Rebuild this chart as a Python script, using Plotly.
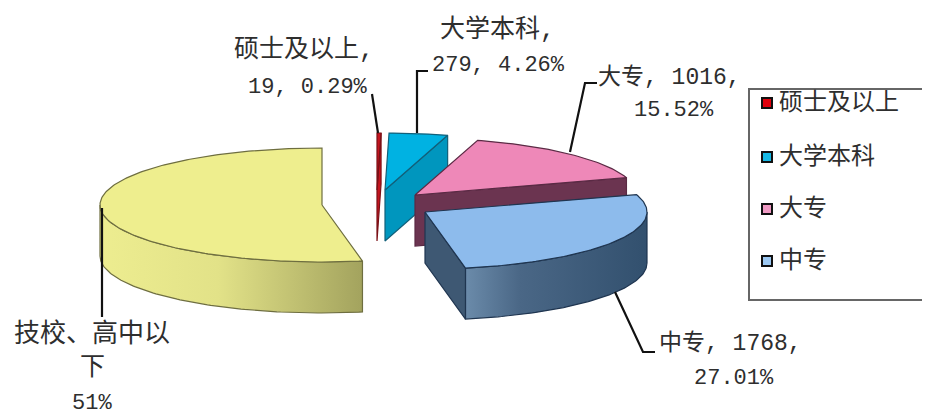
import numpy as np
import plotly.graph_objects as go

categories = ["硕士及以上", "大学本科", "大专", "中专", "技校、高中以下"]
counts = [19, 279, 1016, 1768, 3464]
label_lines = [["硕士及以上,", "19, 0.29%"], ["大学本科,", "279, 4.26%"], ["大专, 1016,", "15.52%"],
               ["中专, 1768,", "27.01%"], ["技校、高中以", "下", "51%"]]

top_colors = ["#C4141E", "#00B2E2", "#EE88B8", "#8DBBEC", "#EEEE8E"]
cut_colors = ["#C4141E", "#0096BE", "#6B3450", "#3E5873", None]
wall_scales = [None, None, None,
               [[0, "#6B8BAA"], [0.3, "#4A6786"], [1, "#32506E"]],
               [[0, "#EDED90"], [0.45, "#E2E288"], [1, "#A3A35E"]]]
edge_colors = ["#7A1016", "#12607A", "#5A2A44", "#1F3550", "#6E6E40"]
swatch_colors = ["#E0000C", "#16B8E4", "#F09AC4", "#9CC8F2"]
apex_x = [377, 385, 415, 425, 322]
apex_y = [190, 190, 195, 212, 205]
RX, RY, DEPTH = 222, 57, 51

FONT = "Liberation Mono, Noto Sans CJK SC"
TEXT = "#2E2E2E"
total = sum(counts)
edges = np.cumsum([0] + counts) / total * 2 * np.pi


def rim(cx, cy, a, b, dz=0):
    t = np.linspace(a, b, max(int(abs(b - a) * 60), 2))
    return cx + RX * np.sin(t), cy - RY * np.cos(t) + dz


fig = go.Figure()


def poly(x, y, fill, line, gradient=None):
    tr = dict(x=list(x), y=list(y), mode="lines", fill="toself", hoverinfo="skip",
              line=dict(color=line, width=1.2), showlegend=False)
    if gradient:
        tr["fillgradient"] = dict(type="horizontal", colorscale=gradient)
    else:
        tr["fillcolor"] = fill
    fig.add_trace(go.Scatter(**tr))


# back to front: the largest slice, then clockwise from the top
for i in [4, 0, 1, 2, 3]:
    a, b = edges[i], edges[i + 1]
    cx, cy = apex_x[i], apex_y[i]
    # outer wall: only the part of the rim that faces the viewer
    lo, hi = max(a, np.pi / 2), min(b, 3 * np.pi / 2)
    if lo < hi and wall_scales[i]:
        x1, y1 = rim(cx, cy, lo, hi)
        x2, y2 = rim(cx, cy, lo, hi, DEPTH)
        poly(np.r_[x1, x2[::-1], x1[0]], np.r_[y1, y2[::-1], y1[0]], None, edge_colors[i],
             gradient=wall_scales[i])
    # cut face at the slice's end
    if cut_colors[i]:
        ex, ey = rim(cx, cy, b, b)
        ex, ey = ex[0], ey[0]
        poly([cx, ex, ex, cx, cx], [cy, ey, ey + DEPTH, cy + DEPTH, cy], cut_colors[i], edge_colors[i])
    # top face
    x, y = rim(cx, cy, a, b)
    poly(np.r_[cx, x, cx], np.r_[cy, y, cy], top_colors[i], edge_colors[i])

# leader lines
leaders = [
    ([372, 378], [94, 133]),
    ([428, 417, 417], [71, 71, 133]),
    ([597, 585, 570], [83, 83, 152]),
    ([615, 643, 655], [292, 352, 352]),
    ([102, 102], [208, 317]),
]
for lx, ly in leaders:
    fig.add_trace(go.Scatter(x=lx, y=ly, mode="lines", line=dict(color="#111", width=2.2),
                             showlegend=False, hoverinfo="skip"))

# slice labels, one annotation per line for the wide line spacing
label_pos = [[(304, 50), (308, 87)], [(497, 30), (498, 65)], [(669, 77), (674, 110)],
             [(730, 343), (734, 378)], [(92, 334), (92, 368), (92, 403)]]
label_sizes = [[25, 22], [25, 22], [23, 22], [23, 22], [26, 25, 22]]
for lines, places, sizes in zip(label_lines, label_pos, label_sizes):
    for t, (lx, ly), s in zip(lines, places, sizes):
        fig.add_annotation(x=lx, y=ly, text=t, showarrow=False, xanchor="center", yanchor="middle",
                           font=dict(family=FONT, size=s, color=TEXT))

# legend box, swatches and names
legend_rows = [103, 157, 209, 261]
fig.add_trace(go.Scatter(x=[767] * 4, y=legend_rows, mode="markers",
                         marker=dict(symbol="square", size=10, color=swatch_colors,
                                     line=dict(color="#111", width=2)),
                         showlegend=False, hoverinfo="skip"))
for name, row in zip(categories[:4], legend_rows):
    fig.add_annotation(x=777, y=row, text=name, showarrow=False, xanchor="left", yanchor="middle",
                       font=dict(family=FONT, size=24, color=TEXT))

fig.update_layout(
    width=922, height=407, margin=dict(l=0, r=0, t=0, b=0),
    paper_bgcolor="white", plot_bgcolor="white",
    xaxis=dict(range=[8, 930], visible=False, fixedrange=True),
    yaxis=dict(range=[415, 8], visible=False, fixedrange=True),
    shapes=[dict(type="rect", xref="x", yref="y", x0=749, x1=950, y0=89, y1=300,
                 line=dict(color="#666", width=2), fillcolor="rgba(0,0,0,0)", layer="below")],
    showlegend=False,
)
fig.write_html("out.html")
